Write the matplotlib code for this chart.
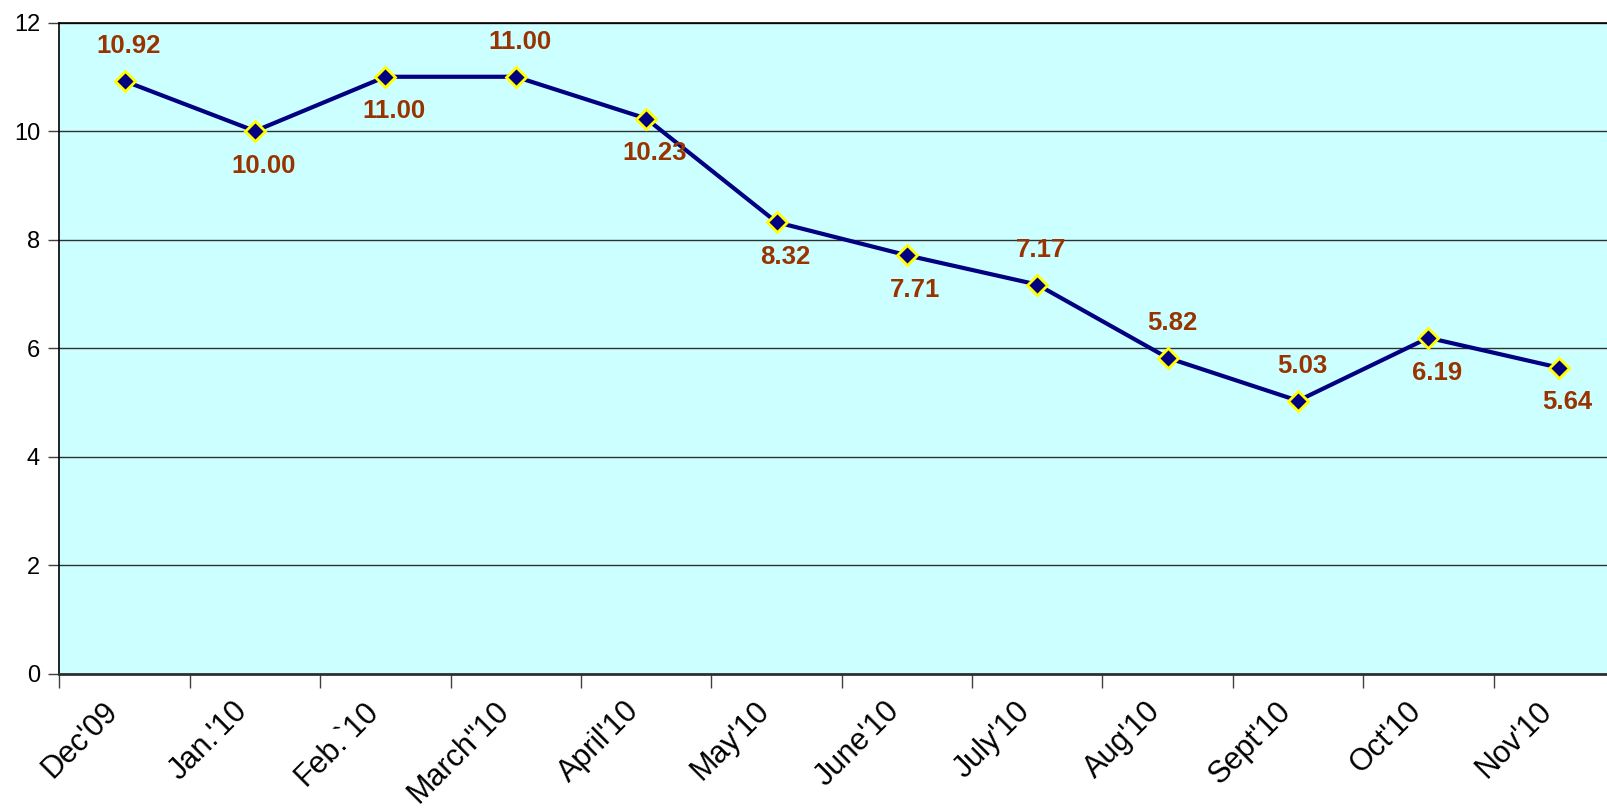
import numpy as np
import matplotlib.pyplot as plt
import matplotlib.transforms as mtransforms

months = ["Dec'09", "Jan.'10", "Feb.`10", 'March"10', "April'10", "May'10",
          "June'10", "July'10", "Aug'10", "Sept'10", "Oct'10", "Nov'10"]
values = [10.92, 10.00, 11.00, 11.00, 10.23, 8.32, 7.71, 7.17, 5.82, 5.03, 6.19, 5.64]
# label above (1) or below (-1) the point
label_side = [1, -1, -1, 1, -1, -1, -1, 1, 1, 1, -1, -1]

plt.rcParams['font.family'] = ['Liberation Sans', 'DejaVu Sans']

fig = plt.figure(figsize=(16.08, 8.09), dpi=100)
ax = fig.add_axes([59.5 / 1608, 1 - 673.7 / 809, (1624 - 59.5) / 1608, (673.7 - 22.5) / 809])
ax.set_facecolor('#CCFFFF')

x = np.arange(len(months))
ax.plot(x, values, color='#000080', lw=3, marker='D', markersize=10.5,
        markerfacecolor='#000080', markeredgecolor='#FFFF00', markeredgewidth=2, zorder=3)

for xi, v, s in zip(x, values, label_side):
    ax.annotate(f'{v:.2f}', (xi, v), xytext=(3 if s > 0 else 6, 25 * s),
                textcoords='offset points', ha='center', va='center',
                fontsize=18.5, fontweight='bold', color='#993300')

ax.set_xlim(-0.5, 11.5)
ax.set_ylim(0, 12)
ax.set_yticks(range(0, 13, 2))
ax.yaxis.grid(True, color='#303030', lw=1)
ax.set_axisbelow(True)

ax.set_xticks(np.arange(-0.5, 11, 1))
ax.set_xticklabels([])
ax.set_xticks(x, minor=True)
ax.set_xticklabels(months, minor=True, rotation=45, ha='right', rotation_mode='anchor')
ax.tick_params(axis='x', which='major', length=10, width=1, color='#404040')
ax.tick_params(axis='x', which='minor', length=0, pad=16, labelsize=22)
ax.tick_params(axis='y', length=8, width=1, color='#404040', labelsize=17, pad=6)

# nudge the rotated month labels left so their ends sit under the points
shift = mtransforms.ScaledTranslation(-16 / 72, 0, fig.dpi_scale_trans)
for lbl in ax.get_xticklabels(minor=True):
    lbl.set_transform(lbl.get_transform() + shift)

for side in ['top', 'left']:
    ax.spines[side].set_color('black')
    ax.spines[side].set_linewidth(1.2)
ax.spines['bottom'].set_color('#303030')
ax.spines['bottom'].set_linewidth(2)
ax.spines['right'].set_visible(False)

fig.savefig('out.png', dpi=100)
